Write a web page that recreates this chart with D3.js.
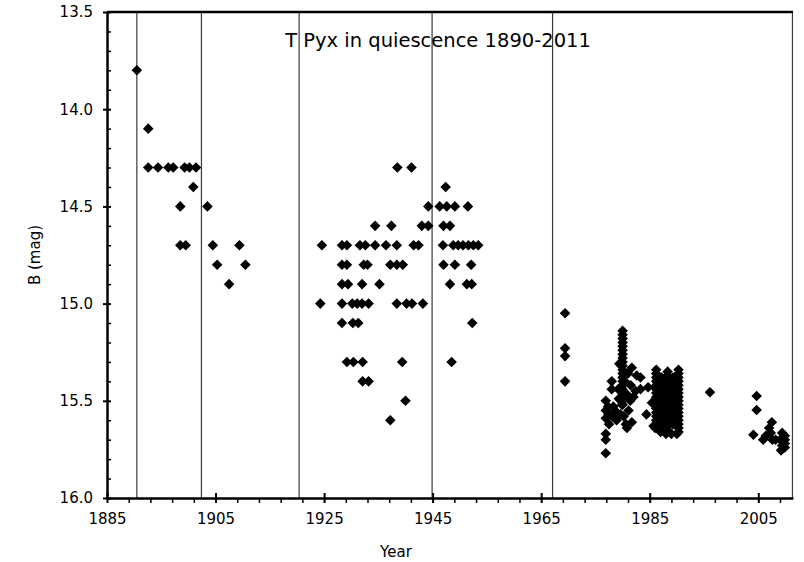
<!DOCTYPE html>
<html>
<head>
<meta charset="utf-8">
<script src="https://cdn.jsdelivr.net/npm/d3@7"></script>
<style>
  body { margin: 0; background: #fff; }
  text { font-family: "DejaVu Sans", Verdana, sans-serif; fill: #000; }
</style>
</head>
<body>
<svg id="chart"></svg>
<script>
// outburst dates (vertical lines)
const outbursts = [1890.5, 1902.4, 1920.4, 1944.9, 1967.1, 2011.3];

const xMajor = [1885, 1905, 1925, 1945, 1965, 1985, 2005];
const yMajor = [13.5, 14.0, 14.5, 15.0, 15.5, 16.0];

// [year, B mag]
const early = [
  [1890.5, 13.80], [1892.6, 14.10], [1892.6, 14.30], [1894.4, 14.30], [1896.3, 14.30],
  [1897.2, 14.30], [1899.3, 14.30], [1900.2, 14.30], [1901.4, 14.30], [1900.9, 14.40],
  [1898.5, 14.50], [1903.5, 14.50], [1898.5, 14.70], [1899.5, 14.70], [1904.5, 14.70],
  [1909.4, 14.70], [1905.3, 14.80], [1910.5, 14.80], [1907.5, 14.90]
];

const middle = [
  [1938.5, 14.3], [1941.1, 14.3],
  [1947.4, 14.4],
  [1944.2, 14.5], [1946.3, 14.5], [1947.6, 14.5], [1949.1, 14.5], [1951.5, 14.5],
  [1934.4, 14.6], [1937.4, 14.6], [1943.0, 14.6], [1944.2, 14.6], [1947.0, 14.6], [1948.2, 14.6],
  [1924.6, 14.7], [1928.3, 14.7], [1929.2, 14.7], [1931.6, 14.7], [1932.6, 14.7], [1934.4, 14.7],
  [1936.4, 14.7], [1938.4, 14.7], [1941.5, 14.7], [1942.4, 14.7], [1946.9, 14.7], [1948.8, 14.7],
  [1949.7, 14.7], [1950.6, 14.7], [1951.6, 14.7], [1952.5, 14.7], [1953.4, 14.7],
  [1928.3, 14.8], [1929.2, 14.8], [1932.3, 14.8], [1933.0, 14.8], [1937.2, 14.8], [1938.4, 14.8],
  [1939.5, 14.8], [1947.0, 14.8], [1949.1, 14.8], [1952.1, 14.8],
  [1928.3, 14.9], [1929.4, 14.9], [1932.0, 14.9], [1935.2, 14.9], [1948.2, 14.9], [1951.3, 14.9],
  [1952.2, 14.9],
  [1924.3, 15.0], [1928.3, 15.0], [1930.2, 15.0], [1931.1, 15.0], [1932.0, 15.0], [1933.2, 15.0],
  [1938.4, 15.0], [1940.2, 15.0], [1941.2, 15.0], [1943.2, 15.0],
  [1928.3, 15.1], [1930.3, 15.1], [1931.3, 15.1], [1952.3, 15.1],
  [1929.2, 15.3], [1930.4, 15.3], [1932.1, 15.3], [1939.4, 15.3], [1948.5, 15.3],
  [1932.1, 15.4], [1933.2, 15.4],
  [1940.0, 15.5],
  [1937.2, 15.6]
];

const late1969 = [[1969.4, 15.05], [1969.4, 15.23], [1969.4, 15.27], [1969.4, 15.40]];

const scatter1980s = [
  [1976.9, 15.77], [1976.9, 15.70], [1976.9, 15.67], [1976.9, 15.59], [1976.9, 15.55],
  [1976.9, 15.50], [1977.3, 15.53], [1977.4, 15.57], [1977.5, 15.62], [1978.0, 15.40],
  [1978.0, 15.44], [1978.3, 15.53], [1978.1, 15.58], [1978.9, 15.60], [1978.6, 15.55],
  [1979.2, 15.44], [1979.4, 15.31], [1979.3, 15.49], [1979.6, 15.57], [1980.4, 15.40],
  [1980.2, 15.58], [1980.6, 15.62], [1980.8, 15.64], [1981.1, 15.55], [1981.4, 15.50],
  [1981.7, 15.61], [1981.7, 15.33], [1981.5, 15.42], [1982.0, 15.48], [1982.4, 15.45],
  [1983.3, 15.38], [1983.3, 15.44], [1984.4, 15.57], [1984.7, 15.43], [1985.7, 15.63],
  [1985.4, 15.51], [1982.6, 15.37], [1981.0, 15.36], [1980.9, 15.47], [1979.9, 15.52],
  [1986.0, 15.64], [1987.0, 15.66], [1988.0, 15.67], [1989.0, 15.67], [1990.0, 15.67],
  [1987.8, 15.655]
];

// dense runs of measurements in a single season
const stack1980 = [15.14, 15.16, 15.18, 15.20, 15.22, 15.24, 15.26, 15.28, 15.30, 15.32,
  15.34, 15.36, 15.38, 15.40, 15.42, 15.44, 15.46, 15.48, 15.50, 15.52];
const stack1986 = [15.34, 15.36, 15.38, 15.40, 15.42, 15.44, 15.46, 15.48, 15.50, 15.52,
  15.54, 15.56, 15.58, 15.60, 15.62];
const stack1987 = [15.38, 15.41, 15.44, 15.47, 15.50, 15.53, 15.56, 15.59, 15.62];
const stack1988 = [15.35, 15.37, 15.39, 15.41, 15.43, 15.45, 15.47, 15.49, 15.51, 15.53,
  15.55, 15.57, 15.59, 15.61, 15.63, 15.65];
const stack1989 = [15.38, 15.41, 15.44, 15.47, 15.50, 15.53, 15.56, 15.59, 15.62];
const stack1990 = [15.34, 15.36, 15.38, 15.40, 15.42, 15.44, 15.46, 15.48, 15.50, 15.52,
  15.54, 15.56, 15.58, 15.60, 15.62, 15.64, 15.66];

const recent = [
  [1996.1, 15.456],
  [2004.7, 15.475], [2004.7, 15.547], [2004.1, 15.675], [2005.9, 15.70], [2006.4, 15.68],
  [2007.0, 15.64], [2007.5, 15.61], [2007.3, 15.665], [2007.6, 15.70], [2008.2, 15.70],
  [2009.4, 15.665], [2009.4, 15.69], [2009.4, 15.71], [2009.4, 15.73], [2009.2, 15.755],
  [2009.9, 15.68], [2009.9, 15.70], [2009.9, 15.72], [2009.9, 15.74]
];

const points = early.concat(middle, late1969, scatter1980s,
  stack1980.map(m => [1980.0, m]),
  stack1986.map(m => [1986.2, m]),
  stack1987.map(m => [1987.2, m]),
  stack1988.map(m => [1988.3, m]),
  stack1989.map(m => [1989.3, m]),
  stack1990.map(m => [1990.3, m]),
  recent);

const width = 804;
const height = 562;
const margin = { top: 12, right: 11, bottom: 64, left: 107 };

const x = d3.scaleLinear()
  .domain([1885, 2011.4])
  .range([margin.left, width - margin.right]);

const y = d3.scaleLinear()
  .domain([13.5, 16.0])
  .range([margin.top, height - margin.bottom]);

const svg = d3.select('#chart')
  .attr('width', width)
  .attr('height', height);

// outburst lines
svg.append('g')
  .selectAll('line')
  .data(outbursts)
  .enter().append('line')
    .attr('x1', d => x(d))
    .attr('x2', d => x(d))
    .attr('y1', y(13.5))
    .attr('y2', y(16.0))
    .attr('stroke', '#3a3a3a')
    .attr('stroke-width', 1.2);

// top border
svg.append('line')
  .attr('x1', x(1885))
  .attr('x2', x(2011.4))
  .attr('y1', y(13.5))
  .attr('y2', y(13.5))
  .attr('stroke', '#000')
  .attr('stroke-width', 2.5);

// x axis
const xMinor = d3.range(1889, 2011, 4);
svg.append('g')
    .attr('transform', `translate(0,${y(16.0)})`)
    .call(d3.axisBottom(x).tickValues(xMinor).tickFormat('').tickSize(5).tickSizeOuter(0))
    .call(g => g.select('.domain').remove())
    .call(g => g.selectAll('line').attr('stroke-width', 1.5));

const xAxis = svg.append('g')
    .attr('transform', `translate(0,${y(16.0)})`)
    .call(d3.axisBottom(x).tickValues(xMajor).tickFormat(d3.format('d'))
      .tickSize(5).tickSizeOuter(0).tickPadding(10));
xAxis.select('.domain').attr('stroke-width', 2.5);
xAxis.selectAll('.tick line').attr('y1', -5).attr('stroke-width', 2);
xAxis.selectAll('text').style('font-size', '15px');

// y axis
const yMinor = d3.range(13.6, 16.0, 0.1).filter(v => Math.abs(v * 2 - Math.round(v * 2)) > 0.01);
svg.append('g')
    .attr('transform', `translate(${x(1885)},0)`)
    .call(d3.axisLeft(y).tickValues(yMinor).tickFormat('').tickSize(-4).tickSizeOuter(0))
    .call(g => g.select('.domain').remove())
    .call(g => g.selectAll('line').attr('stroke-width', 1.5));

const yAxis = svg.append('g')
    .attr('transform', `translate(${x(1885)},0)`)
    .call(d3.axisLeft(y).tickValues(yMajor).tickFormat(d3.format('.1f'))
      .tickSize(4).tickSizeOuter(0).tickPadding(10));
yAxis.select('.domain').attr('stroke-width', 2.5);
yAxis.selectAll('.tick line').attr('x1', 4).attr('stroke-width', 2);
yAxis.selectAll('text').style('font-size', '15px');

// points
const diamond = d3.symbol().type(d3.symbolSquare).size(56);
svg.append('g')
  .selectAll('path')
  .data(points)
  .enter().append('path')
    .attr('d', diamond)
    .attr('transform', d => `translate(${x(d[0])},${y(d[1])}) rotate(45)`)
    .attr('fill', '#000');

// labels
svg.append('text')
  .attr('x', 438)
  .attr('y', 47)
  .attr('text-anchor', 'middle')
  .style('font-size', '19.5px')
  .text('T Pyx in quiescence 1890-2011');

svg.append('text')
  .attr('x', 396)
  .attr('y', 557)
  .attr('text-anchor', 'middle')
  .style('font-size', '15px')
  .text('Year');

svg.append('text')
  .attr('transform', `translate(40,${y(14.75)}) rotate(-90)`)
  .attr('text-anchor', 'middle')
  .style('font-size', '15px')
  .text('B (mag)');
</script>
</body>
</html>
